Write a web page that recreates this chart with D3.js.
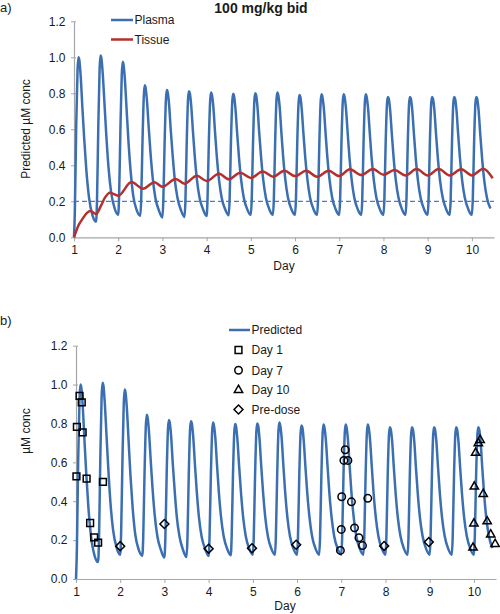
<!DOCTYPE html>
<html><head><meta charset="utf-8">
<script src="https://cdn.jsdelivr.net/npm/d3@7"></script>
<style>
body{margin:0;background:#fff}
text{font-family:"Liberation Sans",Arial,sans-serif;fill:#1a1a1a}
</style>
</head><body>
<svg id="c" width="500" height="614"></svg>
<script>
// ---------------- data ----------------
const dayTicks = [1, 2, 3, 4, 5, 6, 7, 8, 9, 10];
const concTicks = [0, 0.2, 0.4, 0.6, 0.8, 1.0, 1.2];
const targetConc = 0.2;

// dose times (bid) and concentration read at fixed offsets after each dose
const plasmaDoses = [1.0, 1.5, 2.0, 2.5, 3.0, 3.5, 4.0, 4.5, 5.0, 5.5, 6.0, 6.5, 7.0, 7.5, 8.0, 8.5, 9.0, 9.5, 10.0];
const plasmaOffsets = [0, 0.02, 0.05, 0.08, 0.10, 0.12, 0.15, 0.19, 0.23, 0.28, 0.34, 0.42];
const plasmaCycles = [
  [0.000, 0.15, 0.62, 0.93, 1.000, 0.985, 0.90, 0.72, 0.55, 0.37, 0.22, 0.12],
  [0.087, 0.20, 0.62, 0.94, 1.010, 0.995, 0.91, 0.74, 0.57, 0.39, 0.25, 0.16],
  [0.125, 0.23, 0.60, 0.90, 0.975, 0.96, 0.88, 0.71, 0.54, 0.37, 0.23, 0.15],
  [0.120, 0.21, 0.54, 0.79, 0.845, 0.83, 0.76, 0.61, 0.47, 0.33, 0.22, 0.15],
  [0.110, 0.20, 0.53, 0.77, 0.818, 0.805, 0.74, 0.59, 0.46, 0.32, 0.22, 0.15],
  [0.113, 0.20, 0.53, 0.77, 0.812, 0.80, 0.735, 0.59, 0.455, 0.32, 0.22, 0.155],
  [0.118, 0.21, 0.53, 0.76, 0.805, 0.79, 0.73, 0.585, 0.45, 0.32, 0.22, 0.155],
  [0.122, 0.21, 0.53, 0.755, 0.797, 0.785, 0.72, 0.58, 0.45, 0.32, 0.22, 0.155],
  [0.125, 0.21, 0.53, 0.76, 0.800, 0.79, 0.725, 0.58, 0.45, 0.32, 0.22, 0.155],
  [0.125, 0.21, 0.53, 0.765, 0.805, 0.79, 0.73, 0.585, 0.45, 0.32, 0.22, 0.155],
  [0.125, 0.21, 0.53, 0.75, 0.790, 0.78, 0.715, 0.575, 0.445, 0.32, 0.22, 0.155],
  [0.125, 0.21, 0.53, 0.755, 0.795, 0.78, 0.72, 0.58, 0.445, 0.32, 0.22, 0.155],
  [0.125, 0.21, 0.53, 0.755, 0.795, 0.78, 0.72, 0.58, 0.445, 0.32, 0.22, 0.155],
  [0.125, 0.21, 0.53, 0.755, 0.795, 0.78, 0.72, 0.58, 0.445, 0.32, 0.22, 0.155],
  [0.125, 0.21, 0.53, 0.745, 0.780, 0.77, 0.71, 0.57, 0.44, 0.315, 0.22, 0.155],
  [0.125, 0.21, 0.53, 0.745, 0.780, 0.77, 0.71, 0.57, 0.44, 0.315, 0.22, 0.155],
  [0.125, 0.21, 0.53, 0.745, 0.780, 0.77, 0.71, 0.57, 0.44, 0.315, 0.22, 0.155],
  [0.125, 0.21, 0.53, 0.745, 0.780, 0.77, 0.71, 0.57, 0.44, 0.315, 0.22, 0.155],
  [0.125, 0.21, 0.53, 0.745, 0.780, 0.77, 0.71, 0.57, 0.44, 0.315, 0.22, 0.16]
];

const tissueDays = [1.0, 1.05, 1.1, 1.2, 1.3, 1.37, 1.5, 1.6, 1.7, 1.81, 2.0, 2.3, 2.56, 2.82, 3.0, 3.3, 3.5, 3.78, 4.0, 4.28, 4.5, 4.76, 5.0, 5.27, 5.5, 5.76, 6.0, 6.25, 6.5, 6.76, 7.0, 7.24, 7.5, 7.76, 8.0, 8.25, 8.5, 8.75, 9.0, 9.25, 9.5, 9.76, 10.0, 10.26, 10.47];
const tissueConc = [0.0, 0.035, 0.065, 0.105, 0.137, 0.146, 0.129, 0.17, 0.22, 0.248, 0.231, 0.307, 0.27, 0.306, 0.281, 0.324, 0.298, 0.342, 0.313, 0.353, 0.322, 0.359, 0.33, 0.365, 0.337, 0.37, 0.34, 0.37, 0.337, 0.37, 0.34, 0.378, 0.346, 0.379, 0.348, 0.374, 0.344, 0.379, 0.344, 0.379, 0.344, 0.378, 0.344, 0.381, 0.328];

const day1Obs = [[1.08,0.942],[1.13,0.908],[1.02,0.783],[1.15,0.754],[1.01,0.528],[1.24,0.516],[1.61,0.50],[1.32,0.288],[1.41,0.214],[1.50,0.187]];
const day7Obs = [[7.09,0.665],[7.06,0.61],[7.15,0.61],[7.01,0.423],[7.23,0.397],[7.60,0.415],[7.0,0.255],[7.30,0.263],[7.40,0.212],[7.48,0.172],[6.98,0.147]];
const day10Obs = [[10.14,0.715],[10.10,0.698],[10.04,0.649],[10.01,0.475],[10.21,0.437],[10.0,0.285],[10.30,0.296],[10.38,0.229],[10.48,0.18],[9.98,0.161]];
const preDoseObs = [[2.0,0.169],[3.0,0.283],[4.0,0.156],[4.98,0.158],[5.98,0.176],[7.97,0.17],[8.98,0.19]];

// ---------------- build ----------------
const plasma = [];
plasmaCycles.forEach((row, i) => row.forEach((v, j) => {
  const d = plasmaDoses[i] + plasmaOffsets[j];
  if (d <= 10.5) plasma.push([d, v]);
}));
const tissue = tissueDays.map((d, i) => [d, tissueConc[i]]);

const BLUE = "#3b6fb2", RED = "#b3302e", AXIS = "#a6a6a6";
const svg = d3.select("#c");
const minorDays = d3.range(1, 10.501, 0.25);

function panel(x, y, yMinor) {
  const g = svg.append("g");
  const xa = g.append("g").attr("transform", `translate(0,${y(0)})`);
  xa.call(d3.axisBottom(x).tickValues(minorDays).tickFormat("").tickSize(3).tickSizeOuter(0));
  xa.call(d3.axisBottom(x).tickValues(dayTicks).tickFormat(d3.format("d")).tickSize(4).tickSizeOuter(0));
  xa.selectAll("path").attr("stroke", AXIS).attr("stroke-width", 1.2);
  xa.selectAll("line").attr("stroke", AXIS);
  xa.selectAll("text").attr("y", 8).attr("font-size", 12).attr("fill", "#1a1a1a");
  const ya = g.append("g").attr("transform", `translate(${x(1)},0)`);
  if (yMinor) ya.call(d3.axisLeft(y).tickValues(yMinor).tickFormat("").tickSize(3).tickSizeOuter(0));
  ya.call(d3.axisLeft(y).tickValues(concTicks).tickFormat(d3.format(".1f")).tickSize(3).tickSizeOuter(0));
  ya.selectAll("path").attr("stroke", AXIS).attr("stroke-width", 1.2);
  ya.selectAll("line").attr("stroke", AXIS).attr("x2", -3).attr("x1", 2);
  ya.selectAll("text").attr("x", -8.5).attr("font-size", 12).attr("fill", "#1a1a1a");
  return g;
}

// ---- panel a ----
const xA = d3.scaleLinear([1, 10.5], [74, 494]);
const yA = d3.scaleLinear([0, 1.2], [237.3, 21.3]);
panel(xA, yA, null);
const lineA = d3.line().x(d => xA(d[0])).y(d => yA(d[1])).curve(d3.curveMonotoneX);
svg.append("line").attr("x1", xA(1)).attr("x2", xA(10.5)).attr("y1", yA(targetConc)).attr("y2", yA(targetConc))
  .attr("stroke", "#4a7fc1").attr("stroke-width", 1.3).attr("stroke-dasharray", "5,3");
svg.append("path").attr("d", lineA(plasma)).attr("fill", "none").attr("stroke", BLUE).attr("stroke-width", 2.5);
svg.append("path").attr("d", lineA(tissue)).attr("fill", "none").attr("stroke", RED).attr("stroke-width", 2.5);

svg.append("text").attr("x", 261).attr("y", 13).attr("text-anchor", "middle").attr("font-weight", "bold").attr("font-size", 14).text("100 mg/kg bid");
svg.append("text").attr("x", 0).attr("y", 12).attr("font-size", 13).text("a)");
svg.append("text").attr("transform", "translate(30,129) rotate(-90)").attr("text-anchor", "middle").attr("font-size", 12).text("Predicted µM conc");
svg.append("text").attr("x", 284).attr("y", 270).attr("text-anchor", "middle").attr("font-size", 12).text("Day");

const legA = [["Plasma", BLUE, 20], ["Tissue", RED, 39.5]];
legA.forEach(([t, c, yy]) => {
  svg.append("line").attr("x1", 111).attr("x2", 133).attr("y1", yy).attr("y2", yy).attr("stroke", c).attr("stroke-width", 2.5);
  svg.append("text").attr("x", 134.5).attr("y", yy + 4.3).attr("font-size", 12).text(t);
});

// ---- panel b ----
const xB = d3.scaleLinear([1, 10.5], [76, 496]);
const yB = d3.scaleLinear([0, 1.2], [579, 345.7]);
panel(xB, yB, d3.range(0.1, 1.2, 0.2));
const lineB = d3.line().x(d => xB(d[0])).y(d => yB(d[1])).curve(d3.curveMonotoneX);
svg.append("path").attr("d", lineB(plasma)).attr("fill", "none").attr("stroke", BLUE).attr("stroke-width", 2.5);

svg.append("text").attr("x", 0).attr("y", 325).attr("font-size", 13).text("b)");
svg.append("text").attr("transform", "translate(30,431) rotate(-90)").attr("text-anchor", "middle").attr("font-size", 12).text("µM conc");
svg.append("text").attr("x", 285).attr("y", 610).attr("text-anchor", "middle").attr("font-size", 12).text("Day");

const symSquare = d3.symbol(d3.symbolSquare, 46)();
const symCircle = d3.symbol(d3.symbolCircle, 44)();
const symTri = d3.symbol(d3.symbolTriangle, 30)();
const symDiamond = d3.symbol(d3.symbolSquare, 40)();
const series = [
  ["Day 1", day1Obs, symSquare, 0],
  ["Day 7", day7Obs, symCircle, 0],
  ["Day 10", day10Obs, symTri, 0],
  ["Pre-dose", preDoseObs, symDiamond, 45]
];
series.forEach(([name, data, sym, rot]) => {
  svg.append("g").selectAll("path").data(data).join("path")
    .attr("d", sym)
    .attr("transform", d => `translate(${xB(d[0])},${yB(d[1])}) rotate(${rot})`)
    .attr("fill", "none").attr("stroke", "#000").attr("stroke-width", 1.5);
});

svg.append("line").attr("x1", 229).attr("x2", 250).attr("y1", 330).attr("y2", 330).attr("stroke", BLUE).attr("stroke-width", 2.5);
svg.append("text").attr("x", 251.5).attr("y", 334.3).attr("font-size", 12).text("Predicted");
const legRows = [350, 370.3, 390, 409.5];
series.forEach(([name, data, sym, rot], i) => {
  svg.append("path").attr("d", sym).attr("transform", `translate(238.5,${legRows[i]}) rotate(${rot})`)
    .attr("fill", "none").attr("stroke", "#000").attr("stroke-width", 1.5);
  svg.append("text").attr("x", 251.5).attr("y", legRows[i] + 4.3).attr("font-size", 12).text(name);
});
</script>
</body></html>
